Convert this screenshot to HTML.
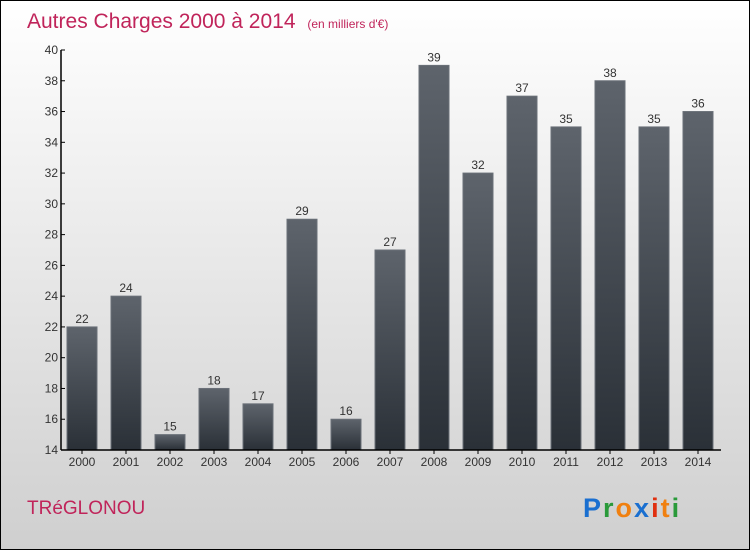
<!DOCTYPE html>
<html><head><meta charset="utf-8"><style>
body{margin:0;width:750px;height:550px;overflow:hidden;font-family:"Liberation Sans",sans-serif}
#wrap{position:absolute;left:0;top:0;width:748px;height:548px;border:1px solid #000;background:linear-gradient(#ffffff,#cfcfcf)}
</style></head><body>
<div id="wrap">
<svg width="750" height="550" style="position:absolute;left:-1px;top:-1px" id="svg">
<defs><linearGradient id="bg" x1="0" y1="0" x2="0" y2="1"><stop offset="0" stop-color="#5e646c"/><stop offset="1" stop-color="#2a3037"/></linearGradient></defs>
<text x="27" y="28" font-size="21" fill="#c0245a">Autres Charges 2000 à 2014 <tspan font-size="12" dx="6">(en milliers d'€)</tspan></text>
<text x="27" y="514" font-size="19" fill="#c0245a">TRéGLONOU</text>
<g font-size="27" font-weight="bold" letter-spacing="2">
<text x="583" y="517" fill="#1a6fd0">P<tspan fill="#2a9a3a">r</tspan><tspan fill="#f08010">o</tspan><tspan fill="#1a6fd0">x</tspan><tspan fill="#e03010">i</tspan><tspan fill="#f08010">t</tspan><tspan fill="#2a9a3a">i</tspan></text>
</g>
<g id="g"></g>
</svg></div>
<script>
const years=["2000","2001","2002","2003","2004","2005","2006","2007","2008","2009","2010","2011","2012","2013","2014"];
const values=[22,24,15,18,17,29,16,27,39,32,37,35,38,35,36];
const yTicks=[14,16,18,20,22,24,26,28,30,32,34,36,38,40];
const NS="http://www.w3.org/2000/svg",g=document.getElementById('g');
const y=v=>450-(v-14)*400/26, x=i=>82+44*i;
function mk(t,a,txt){const e=document.createElementNS(NS,t);for(const k in a)e.setAttribute(k,a[k]);if(txt!=null)e.textContent=txt;g.appendChild(e);return e;}
values.forEach((v,i)=>{
 const r=mk('rect',{x:x(i)-15,y:y(v),width:30,height:450-y(v),fill:'url(#bg)',stroke:'#6a7078','stroke-width':1});
 
 
 const l=mk('text',{x:x(i),y:y(v)-4,'text-anchor':'middle','font-size':12,fill:'#333'},v);
 
 
 const t=mk('text',{x:x(i),y:466,'text-anchor':'middle','font-size':12,fill:'#333'},years[i]);
 
 
 mk('line',{x1:x(i),x2:x(i),y1:450,y2:454,stroke:'#000'});
});
yTicks.forEach(v=>{
 mk('line',{x1:61,x2:65,y1:y(v),y2:y(v),stroke:'#000'});
 const t=mk('text',{x:58,y:y(v)+4,'text-anchor':'end','font-size':12,fill:'#333'},v);
 
 
});
const ya=mk('line',{x1:61,x2:61,y1:50,y2:450,stroke:'#000','stroke-width':1.5});


const xa=mk('line',{x1:61,x2:721,y1:450,y2:450,stroke:'#000','stroke-width':1.5});


</script>
</body></html>
